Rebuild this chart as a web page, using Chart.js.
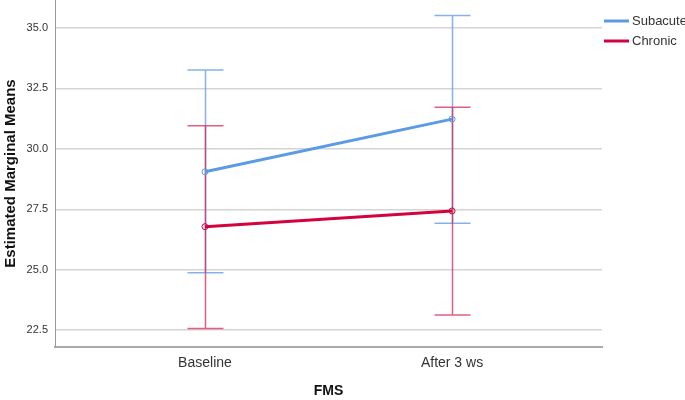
<!DOCTYPE html>
<html>
<head>
<meta charset="utf-8">
<script src="https://cdn.jsdelivr.net/npm/chart.js@4"></script>
<style>
  html, body { margin: 0; padding: 0; background: #fff; overflow: hidden; }
  #wrap { width: 685px; height: 400px; overflow: hidden; }
  #graficoMedias { display: block; margin-top: -5px; }
</style>
</head>
<body>
<div id="wrap"><canvas id="graficoMedias" width="685" height="405"></canvas></div>
<script>
// dados
var momentos = ['Baseline', 'After 3 ws'];
var grupos = ['Subacute', 'Chronic'];
var mediaSubacute = [29.05, 31.23];
var superiorSubacute = [33.26, 35.52];
var inferiorSubacute = [24.87, 26.92];
var mediaChronic = [26.78, 27.43];
var superiorChronic = [30.96, 31.72];
var inferiorChronic = [22.57, 23.12];
var ticksY = [22.5, 25.0, 27.5, 30.0, 32.5, 35.0];

var corSubacute = '#5b9be6';
var corChronic = '#d2043f';
var corBarraSubacute = 'rgba(120,170,235,0.9)';
var corBarraChronic = 'rgba(215,40,85,0.75)';

function pontos(valores) {
	return valores.map(function(v, i){ return { x: i, y: v }; });
}

var barrasErro = {
	id: 'barrasErro',
	beforeDatasetsDraw: function(chart) {
		var ctx = chart.ctx;
		var x = chart.scales.x, y = chart.scales.y;
		var series = [
			{ sup: superiorSubacute, inf: inferiorSubacute, cor: corBarraSubacute },
			{ sup: superiorChronic, inf: inferiorChronic, cor: corBarraChronic }
		];
		ctx.save();
		ctx.lineWidth = 1.5;
		series.forEach(function(s){
			ctx.strokeStyle = s.cor;
			s.sup.forEach(function(v, i){
				var px = Math.round(x.getPixelForValue(i)) + 0.5;
				var ps = y.getPixelForValue(v);
				var pi = y.getPixelForValue(s.inf[i]);
				ctx.beginPath();
				ctx.moveTo(px, ps); ctx.lineTo(px, pi);
				ctx.moveTo(px - 18, ps); ctx.lineTo(px + 18, ps);
				ctx.moveTo(px - 18, pi); ctx.lineTo(px + 18, pi);
				ctx.stroke();
			});
		});
		ctx.restore();
	}
};

var legenda = {
	id: 'legenda',
	afterDraw: function(chart) {
		var ctx = chart.ctx;
		var topo = chart.chartArea.top;
		ctx.save();
		ctx.font = '13px "Liberation Sans", Arial, sans-serif';
		ctx.fillStyle = '#333';
		ctx.textBaseline = 'middle';
		ctx.lineWidth = 3;
		chart.data.datasets.forEach(function(ds, i){
			var yy = topo + 21 + i * 20;
			ctx.strokeStyle = ds.borderColor;
			ctx.beginPath();
			ctx.moveTo(604, yy); ctx.lineTo(629, yy);
			ctx.stroke();
			ctx.fillText(ds.label, 632, yy);
		});
		ctx.restore();
	}
};

new Chart(document.getElementById('graficoMedias').getContext('2d'), {
	type: 'line',
	data: {
		datasets: [{
			label: grupos[0],
			data: pontos(mediaSubacute),
			borderColor: corSubacute,
			borderWidth: 3,
			pointRadius: 3,
			pointBorderWidth: 1,
			pointBackgroundColor: 'rgba(255,255,255,0)',
			pointBorderColor: corSubacute
		}, {
			label: grupos[1],
			data: pontos(mediaChronic),
			borderColor: corChronic,
			borderWidth: 3,
			pointRadius: 3,
			pointBorderWidth: 1,
			pointBackgroundColor: 'rgba(255,255,255,0)',
			pointBorderColor: corChronic
		}]
	},
	options: {
		responsive: false,
		animation: false,
		layout: { padding: { top: 0, right: 83, bottom: 0, left: 0 } },
		plugins: { legend: { display: false }, tooltip: { enabled: false } },
		scales: {
			x: {
				type: 'linear',
				min: -0.607,
				max: 1.607,
				afterBuildTicks: function(s){ s.ticks = [{ value: 0 }, { value: 1 }]; },
				afterFit: function(s){ s.height = 53; s.paddingLeft = 0; s.paddingRight = 0; },
				ticks: {
					callback: function(v){ return momentos[v]; },
					font: { family: '"Liberation Sans", Arial, sans-serif', size: 14 },
					color: '#333',
					padding: 8
				},
				grid: { display: false, drawTicks: false },
				border: { color: '#aaa', width: 2 },
				title: {
					display: true,
					text: 'FMS',
					font: { family: '"Liberation Sans", Arial, sans-serif', size: 14, weight: 'bold' },
					color: '#111',
					padding: { top: 17, bottom: 0 }
				}
			},
			y: {
				min: 21.8,
				max: 36.16,
				afterBuildTicks: function(s){ s.ticks = ticksY.map(function(v){ return { value: v }; }); },
				afterFit: function(s){ s.width = 55; s.paddingTop = 0; s.paddingBottom = 0; },
				ticks: {
					callback: function(v){ return v.toFixed(1); },
					font: { family: '"Liberation Sans", Arial, sans-serif', size: 11 },
					color: '#333',
					padding: 7
				},
				grid: { color: '#d4d4d4', lineWidth: 1.5, drawTicks: false },
				border: { color: '#999', width: 1 },
				title: {
					display: true,
					text: 'Estimated Marginal Means',
					font: { family: '"Liberation Sans", Arial, sans-serif', size: 15, weight: 'bold' },
					color: '#111',
					padding: { top: 2, bottom: 0 }
				}
			}
		}
	},
	plugins: [barrasErro, legenda]
});
</script>
</body>
</html>
